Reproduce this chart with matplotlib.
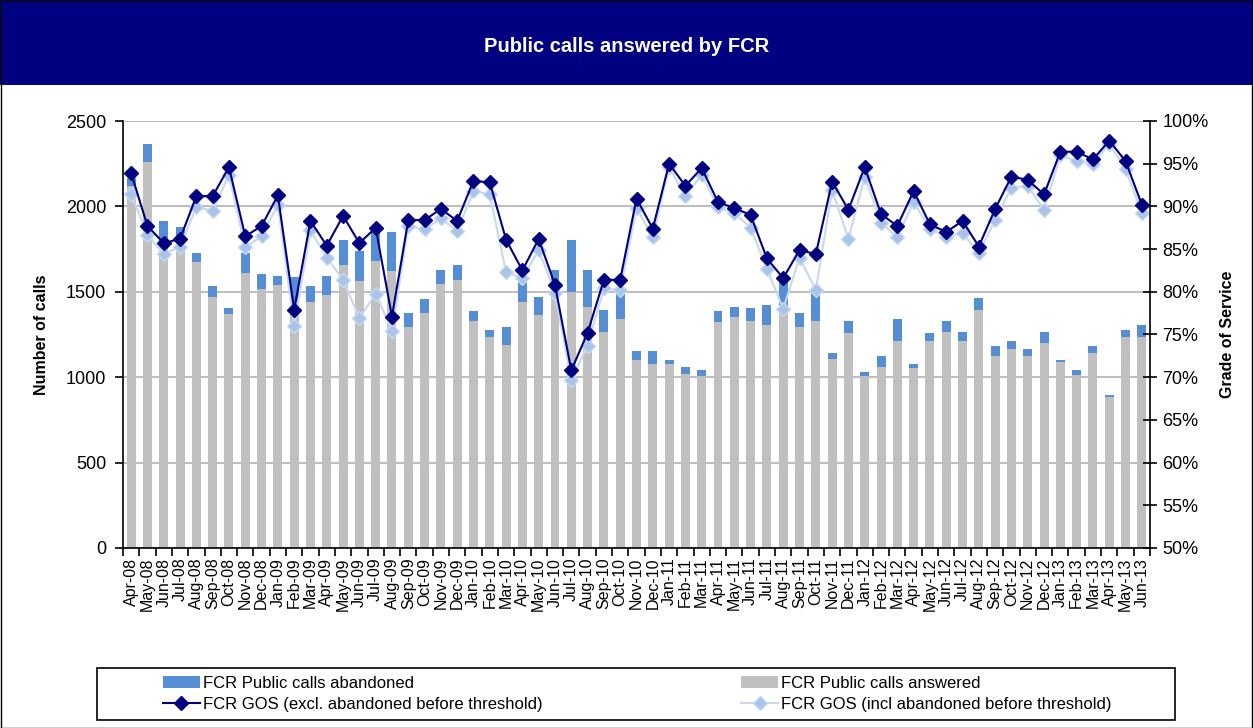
import numpy as np
import matplotlib
matplotlib.use("Agg")
import matplotlib.pyplot as plt
from matplotlib.patches import Rectangle
from matplotlib.ticker import PercentFormatter, MultipleLocator

plt.rcParams['font.family'] = ['Liberation Sans', 'DejaVu Sans']

# --- data ---
months = ['Apr-08', 'May-08', 'Jun-08', 'Jul-08', 'Aug-08', 'Sep-08', 'Oct-08', 'Nov-08', 'Dec-08',
          'Jan-09', 'Feb-09', 'Mar-09', 'Apr-09', 'May-09', 'Jun-09', 'Jul-09', 'Aug-09', 'Sep-09',
          'Oct-09', 'Nov-09', 'Dec-09', 'Jan-10', 'Feb-10', 'Mar-10', 'Apr-10', 'May-10', 'Jun-10',
          'Jul-10', 'Aug-10', 'Sep-10', 'Oct-10', 'Nov-10', 'Dec-10', 'Jan-11', 'Feb-11', 'Mar-11',
          'Apr-11', 'May-11', 'Jun-11', 'Jul-11', 'Aug-11', 'Sep-11', 'Oct-11', 'Nov-11', 'Dec-11',
          'Jan-12', 'Feb-12', 'Mar-12', 'Apr-12', 'May-12', 'Jun-12', 'Jul-12', 'Aug-12', 'Sep-12',
          'Oct-12', 'Nov-12', 'Dec-12', 'Jan-13', 'Feb-13', 'Mar-13', 'Apr-13', 'May-13', 'Jun-13']

answered = [2120, 2262, 1780, 1800, 1676, 1471, 1369, 1611, 1516,
            1537, 1440, 1441, 1480, 1656, 1562, 1683, 1619, 1293,
            1377, 1545, 1572, 1330, 1236, 1191, 1441, 1367, 1500,
            1496, 1412, 1266, 1340, 1100, 1080, 1080, 1021, 1006,
            1322, 1350, 1330, 1303, 1396, 1293, 1330, 1107, 1256,
            1006, 1060, 1211, 1051, 1211, 1266, 1211, 1396, 1127,
            1164, 1127, 1201, 1090, 1012, 1144, 885, 1238, 1238]

total = [2164, 2363, 1916, 1877, 1728, 1535, 1404, 1728, 1607,
         1590, 1585, 1535, 1590, 1805, 1738, 1857, 1849, 1377,
         1459, 1627, 1654, 1385, 1275, 1293, 1600, 1471, 1627,
         1805, 1627, 1394, 1510, 1154, 1154, 1100, 1060, 1041,
         1385, 1412, 1404, 1424, 1600, 1377, 1500, 1144, 1330,
         1033, 1123, 1340, 1080, 1256, 1330, 1266, 1461, 1182,
         1211, 1164, 1266, 1100, 1043, 1182, 893, 1275, 1303]

gos_excl = [93.9, 87.7, 85.7, 86.2, 91.2, 91.2, 94.6, 86.5, 87.7,
            91.3, 77.9, 88.3, 85.4, 88.9, 85.7, 87.5, 77.1, 88.4,
            88.4, 89.7, 88.3, 93.0, 92.8, 86.1, 82.5, 86.2, 80.8,
            70.8, 75.2, 81.4, 81.4, 90.9, 87.4, 95.0, 92.4, 94.5,
            90.5, 89.8, 89.0, 83.9, 81.6, 84.9, 84.4, 92.9, 89.6,
            94.6, 89.1, 87.7, 91.8, 87.9, 87.0, 88.3, 85.3, 89.7,
            93.5, 93.1, 91.4, 96.4, 96.4, 95.5, 97.7, 95.3, 90.2]

gos_incl = [91.4, 86.7, 84.4, 85.3, 89.9, 89.5, 93.7, 85.2, 86.5,
            90.2, 76.0, 87.2, 84.0, 81.4, 76.9, 79.8, 75.4, 87.7,
            87.3, 88.6, 87.1, 91.8, 91.4, 82.3, 81.6, 84.9, 79.9,
            69.7, 73.7, 80.4, 80.2, 89.8, 86.4, 94.6, 91.2, 93.7,
            89.9, 89.2, 87.5, 82.7, 78.0, 84.0, 80.2, 91.9, 86.2,
            93.5, 88.1, 86.4, 90.5, 87.4, 86.4, 86.9, 84.5, 88.4,
            92.2, 92.4, 89.6, 96.0, 95.3, 95.0, 97.3, 94.4, 89.2]

answered = np.array(answered)
abandoned = np.array(total) - answered
x = np.arange(len(months))

W, H = 1253, 728
fig = plt.figure(figsize=(W / 100, H / 100), dpi=100)

# title band and outer frame
fig.patches.append(Rectangle((0, 1 - 85 / H), 1, 85 / H, transform=fig.transFigure,
                             facecolor='#000080', edgecolor='none', zorder=0))
fig.patches.append(Rectangle((0.5 / W, 0.5 / H), 1 - 1.5 / W, 1 - 1.5 / H, transform=fig.transFigure,
                             facecolor='none', edgecolor='black', lw=1, zorder=1))
fig.text(0.5, 1 - 47 / H, 'Public calls answered by FCR', color='white', fontsize=14.5,
         fontweight='bold', ha='center', va='center')

ax = fig.add_axes([123 / W, 1 - 548 / H, 1027 / W, 427 / H])
b1 = ax.bar(x, answered, width=0.55, color='#C0C0C0', label='FCR Public calls answered', zorder=2)
b2 = ax.bar(x, abandoned, width=0.55, bottom=answered, color='#558ED5',
            label='FCR Public calls abandoned', zorder=2)
ax.set_xlim(-0.5, len(months) - 0.5)
ax.set_ylim(0, 2500)
ax.yaxis.set_major_locator(MultipleLocator(500))
ax.grid(axis='y', color='#BFBFBF', lw=1.5, zorder=0)
ax.set_axisbelow(True)
for s in ['top', 'right']:
    ax.spines[s].set_visible(False)
ax.spines['left'].set_linewidth(1.2)
ax.spines['bottom'].set_linewidth(1.2)
ax.tick_params(axis='y', direction='out', length=6, width=1.2, labelsize=13, pad=6)
ax.set_xticks(x)
ax.set_xticklabels(months, rotation=90, fontsize=11.5)
ax.set_xticks(np.arange(len(months) + 1) - 0.5, minor=True)
ax.tick_params(axis='x', which='major', length=0, pad=7)
ax.tick_params(axis='x', which='minor', direction='out', length=6, width=1.2)
ax.set_ylabel('Number of calls', fontsize=11.5, fontweight='bold', labelpad=12)

ax2 = ax.twinx()
l2, = ax2.plot(x, gos_incl, color='#C6D9F1', lw=1.5, marker='D', markersize=7,
               markerfacecolor='#A9C4E8', markeredgecolor='#C6D9F1',
               label='FCR GOS (incl abandoned before threshold)')
l1, = ax2.plot(x, gos_excl, color='#000080', lw=1.5, marker='D', markersize=7,
               markerfacecolor='#000080', markeredgecolor='#000080',
               label='FCR GOS (excl. abandoned before threshold)')
ax2.set_ylim(50, 100)
ax2.yaxis.set_major_locator(MultipleLocator(5))
ax2.yaxis.set_major_formatter(PercentFormatter(decimals=0))
for s in ['top', 'left', 'bottom']:
    ax2.spines[s].set_visible(False)
ax2.spines['right'].set_linewidth(1.2)
ax2.tick_params(axis='y', direction='inout', length=10, width=1.2, labelsize=13, pad=4)
ax2.set_ylabel('Grade of Service', fontsize=11.5, fontweight='bold', labelpad=8)

# legend box
fig.patches.append(Rectangle((97 / W, 1 - 720 / H), 1078 / W, 52 / H, transform=fig.transFigure,
                             facecolor='white', edgecolor='black', lw=1.2, zorder=1))
fig.legend([b2, l1, b1, l2],
           ['FCR Public calls abandoned', 'FCR GOS (excl. abandoned before threshold)',
            'FCR Public calls answered', 'FCR GOS (incl abandoned before threshold)'],
           ncol=2, mode='expand', frameon=False, fontsize=12, borderpad=0, borderaxespad=0,
           handlelength=2.2, handletextpad=0.2, labelspacing=0.35,
           loc='center', bbox_to_anchor=(163 / W, 1 - 718 / H, (1112 - 163) / W, 48 / H))

fig.savefig('out.png', dpi=100)
